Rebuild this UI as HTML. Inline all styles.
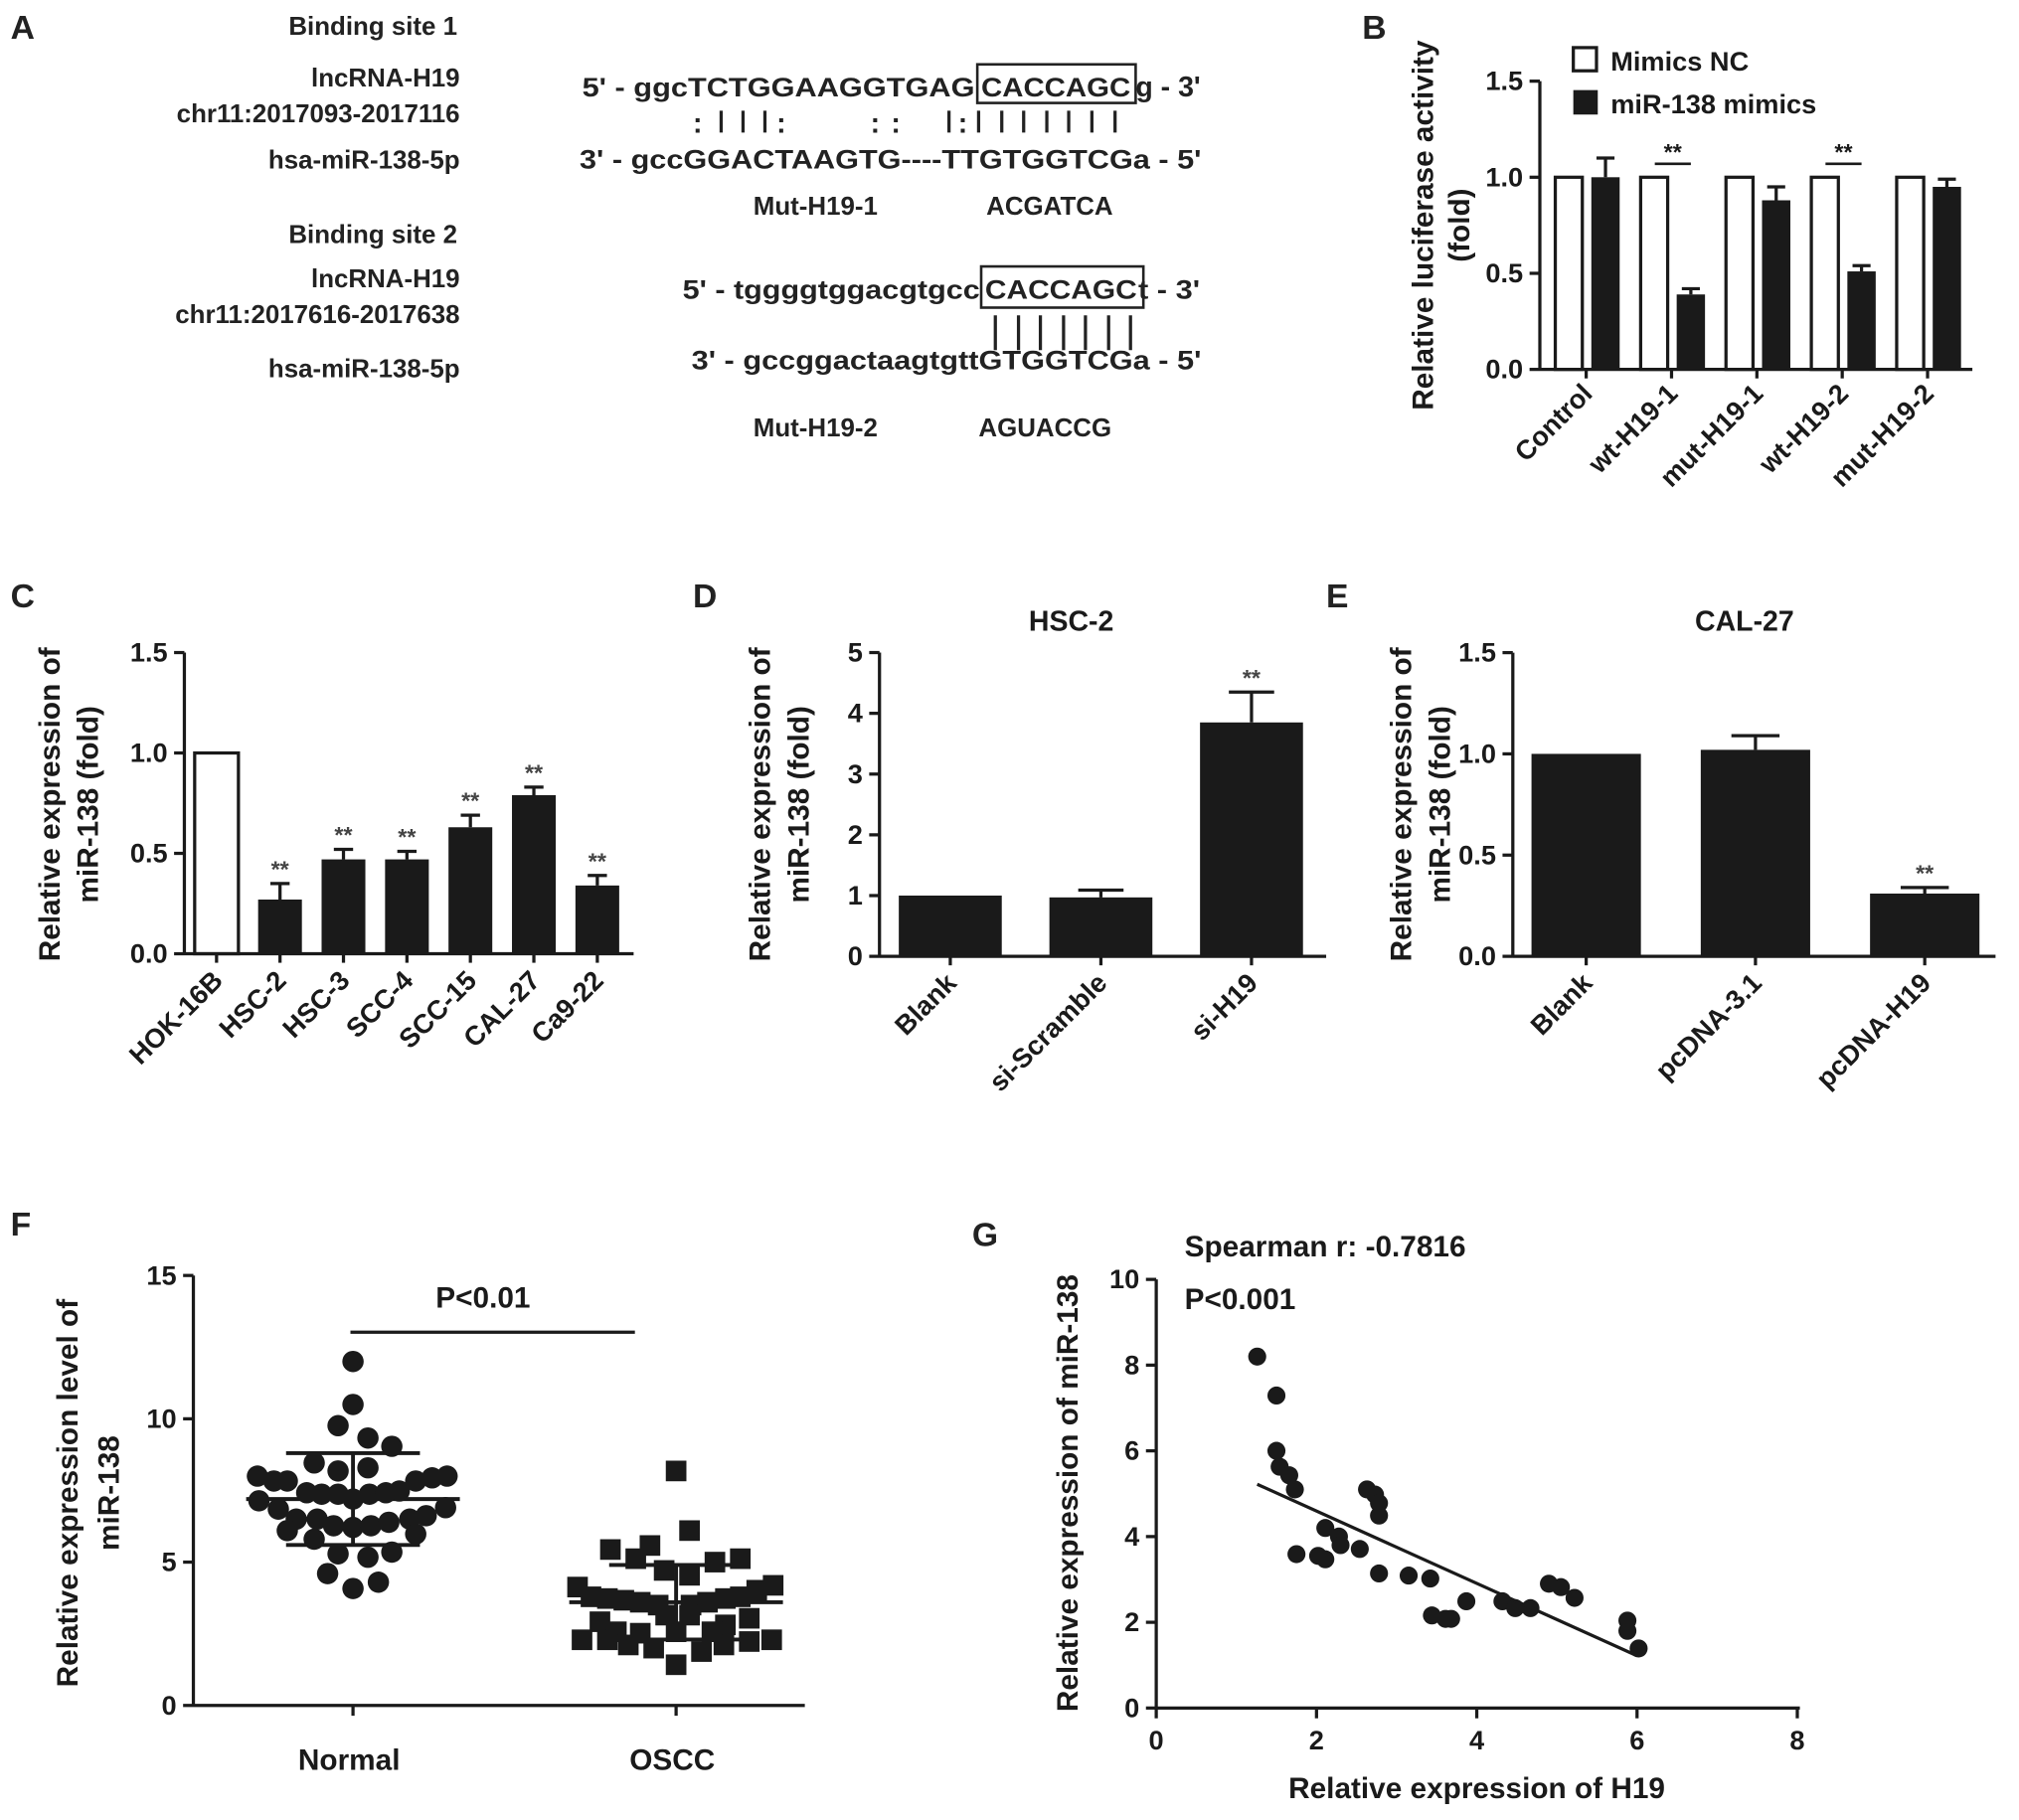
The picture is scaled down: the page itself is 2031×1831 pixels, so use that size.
<!DOCTYPE html>
<html><head><meta charset="utf-8">
<style>
html,body{margin:0;padding:0;background:#fff;}
svg{display:block;font-family:"Liberation Sans",Arial,sans-serif;font-weight:bold;}
</style></head>
<body>
<svg id="fig" xmlns="http://www.w3.org/2000/svg" width="2031" height="1831" viewBox="0 0 1568 1414">
<rect width="1568" height="1414" fill="#fff"/>
<g font-size="26" fill="#222">
<text x="8" y="30">A</text>
<text x="1058" y="30">B</text>
<text x="8" y="472">C</text>
<text x="538" y="472">D</text>
<text x="1030" y="472">E</text>
<text x="8" y="960">F</text>
<text x="755" y="968">G</text>
</g>
<g font-size="20" fill="#222">
<text x="355" y="27" text-anchor="end">Binding site 1</text>
<text x="357" y="67" text-anchor="end">lncRNA-H19</text>
<text x="357" y="95" text-anchor="end">chr11:2017093-2017116</text>
<text x="357" y="131" text-anchor="end">hsa-miR-138-5p</text>
<g font-size="21">
<text x="452" y="75" textLength="305" lengthAdjust="spacingAndGlyphs">5' - ggcTCTGGAAGGTGAG</text>
<text x="762" y="75" textLength="116" lengthAdjust="spacingAndGlyphs">CACCAGC</text>
<text x="882" y="75" font-size="22">g - 3'</text>
</g>
<rect x="759" y="50" width="123" height="30" fill="none" stroke="#222" stroke-width="2"/>
<g font-size="22">
<text x="538" y="103">:</text><text x="603" y="103">:</text><text x="676" y="103">:</text><text x="692" y="103">:</text><text x="744" y="103">:</text>
<path d="M560 86V103M577 86V103M594 86V103M737 86V103M760 86V103M778 86V103M795 86V103M813 86V103M830 86V103M848 86V103M866 86V103" stroke="#222" stroke-width="2.5"/>
</g>
<text x="450" y="131" font-size="21" textLength="483" lengthAdjust="spacingAndGlyphs">3' - gccGGACTAAGTG----TTGTGGTCGa - 5'</text>
<text x="585" y="167">Mut-H19-1</text>
<text x="766" y="167">ACGATCA</text>
<text x="355" y="189" text-anchor="end">Binding site 2</text>
<text x="357" y="223" text-anchor="end">lncRNA-H19</text>
<text x="357" y="251" text-anchor="end">chr11:2017616-2017638</text>
<text x="357" y="293" text-anchor="end">hsa-miR-138-5p</text>
<g font-size="21">
<text x="530" y="232" textLength="231" lengthAdjust="spacingAndGlyphs">5' - tggggtggacgtgcc</text>
<text x="765" y="232" textLength="118" lengthAdjust="spacingAndGlyphs">CACCAGC</text>
<text x="884" y="232" textLength="48" lengthAdjust="spacingAndGlyphs">t - 3'</text>
</g>
<rect x="762" y="207" width="126" height="32" fill="none" stroke="#222" stroke-width="2"/>
<path d="M773 245V272M791 245V272M808 245V272M826 245V272M843 245V272M861 245V272M878 245V272" stroke="#222" stroke-width="2.5"/>
<text x="537" y="287" font-size="21" textLength="396" lengthAdjust="spacingAndGlyphs">3' - gccggactaagtgttGTGGTCGa - 5'</text>
<text x="585" y="339">Mut-H19-2</text>
<text x="760" y="339">AGUACCG</text>
</g>
</svg>
<script>
// ---- Panel B data ----
const bCats = ['Control','wt-H19-1','mut-H19-1','wt-H19-2','mut-H19-2'];
const bNC = [1.0,1.0,1.0,1.0,1.0];
const bMimics = [1.0,0.39,0.88,0.51,0.95];
const bMimicsErr = [0.10,0.03,0.07,0.03,0.04];
const bSig = ['','**','','**',''];
const bTicks = [0,0.5,1.0,1.5];
const bTickLabels = ['0.0','0.5','1.0','1.5'];
// ---- Panel C data ----
const cCats = ['HOK-16B','HSC-2','HSC-3','SCC-4','SCC-15','CAL-27','Ca9-22'];
const cVals = [1.0,0.27,0.47,0.47,0.63,0.79,0.34];
const cErr = [0,0.08,0.05,0.04,0.06,0.04,0.05];
const cSig = ['','**','**','**','**','**','**'];
const cTicks = [0,0.5,1.0,1.5];
const cTickLabels = ['0.0','0.5','1.0','1.5'];
// ---- Panel D data ----
const dCats = ['Blank','si-Scramble','si-H19'];
const dVals = [1.0,0.97,3.85];
const dErr = [0,0.12,0.5];
const dSig = ['','','**'];
const dTicks = [0,1,2,3,4,5];
const dTickLabels = ['0','1','2','3','4','5'];
// ---- Panel E data ----
const eCats = ['Blank','pcDNA-3.1','pcDNA-H19'];
const eVals = [1.0,1.02,0.31];
const eErr = [0,0.07,0.03];
const eSig = ['','','**'];
const eTicks = [0,0.5,1.0,1.5];
const eTickLabels = ['0.0','0.5','1.0','1.5'];
// ---- Panel F data ----
const fGroups = ['Normal','OSCC'];
const fNormalVals = [12.0,10.5,9.76,9.33,9.04,8.46,8.18,8.29,8.0,7.83,7.83,7.83,7.94,8.0,7.42,7.37,7.37,7.2,7.37,7.42,7.48,7.14,6.85,6.9,6.5,6.5,6.27,6.21,6.27,6.39,6.5,6.62,6.1,5.98,5.8,5.29,5.17,5.35,4.6,4.08,4.3];
const fNormalJitter = [0,0,-1,1,2.6,-2.6,-1,1,-6.4,-5.3,-4.4,4.2,5.3,6.3,-3.1,-2.1,-1,0,1.1,2.2,3.1,-6.3,-5,6.2,-3.8,-2.4,-1.3,0,1.2,2.4,3.8,4.9,-4.4,4.2,-2.6,-1,1,2.6,-1.7,0,1.7];
const fOsccVals = [8.18,6.1,5.44,5.58,5.12,5.0,5.12,4.71,4.54,4.13,4.19,4.02,3.79,3.73,3.67,3.6,3.5,3.5,3.6,3.73,3.79,3.15,3.15,2.92,3.04,2.81,2.57,2.52,2.57,2.57,2.29,2.29,2.11,2.0,1.88,2.11,2.23,2.29,1.42];
const fOsccJitter = [0,0.9,-4.4,-1.75,-2.7,2.6,4.3,-0.8,0.9,-6.6,6.5,5.4,-5.7,-4.6,-3.5,-2.4,-1.2,1.0,2.1,3.3,4.3,-0.7,0.9,-5.1,4.9,3.3,-4,-2.4,0,2.4,-6.3,-4.6,-3.2,-1.5,1.7,3.2,4.9,6.4,0];
const fMeans = [7.2,3.6];
const fSdHi = [8.8,4.9];
const fSdLo = [5.6,2.3];
const fTicks = [0,5,10,15];
const fTickLabels = ['0','5','10','15'];
// ---- Panel G data ----
const gX = [1.26,1.50,1.50,1.54,1.66,1.73,2.63,2.73,2.78,2.78,2.11,2.28,2.30,2.54,1.75,2.02,2.11,2.78,3.15,3.42,3.44,3.61,3.68,3.87,4.32,4.48,4.67,4.90,5.05,5.22,5.88,5.88,6.02];
const gY = [8.2,7.29,6.0,5.63,5.43,5.10,5.10,4.98,4.78,4.49,4.2,4.0,3.8,3.71,3.59,3.55,3.47,3.14,3.09,3.02,2.16,2.08,2.08,2.49,2.49,2.33,2.33,2.90,2.82,2.57,2.04,1.80,1.39];
const gFitX = [1.26,6.0];
const gFitY = [5.22,1.22];
const gXTicks = [0,2,4,6,8];
const gYTicks = [0,2,4,6,8,10];

const NS='http://www.w3.org/2000/svg';
const svg=document.getElementById('fig');
function mk(tag,a,p){const e=document.createElementNS(NS,tag);for(const k in a)e.setAttribute(k,a[k]);(p||svg).appendChild(e);return e;}
function txt(s,a,p){const e=mk('text',a,p);e.textContent=s;return e;}
const INK='#1a1a1a';

function yAxis(g,x,ys,ticks,labels){
  const ax=mk('line',{x1:x,x2:x,y1:ys(ticks[0])+1,y2:ys(ticks[ticks.length-1]),stroke:INK,'stroke-width':2.5},g);
  
  
  ticks.forEach((t,i)=>{
    const tk=mk('line',{x1:x-8,x2:x,y1:ys(t),y2:ys(t),stroke:INK,'stroke-width':2.5},g);
    
    
    const tl=txt(labels[i],{x:x-13,y:ys(t)+7,'text-anchor':'end','font-size':21,fill:INK},g);
    
    
  });
}
function xAxisLine(g,x1,x2,y){
  const l=mk('line',{x1:x1,x2:x2,y1:y,y2:y,stroke:INK,'stroke-width':2.5},g);
  
  
}
function rotLabel(g,s,cx,y){
  const t=txt(s,{x:cx+6,y:y,'text-anchor':'end','font-size':21,fill:INK,transform:`rotate(-45 ${cx+6} ${y})`},g);
  
  
}
function yTitle(g,lines,x0,cy,dx){
  lines.forEach((s,i)=>{
    const x=x0+i*dx;
    const t=txt(s,{x:x,y:cy,'text-anchor':'middle','font-size':23,fill:INK,transform:`rotate(-90 ${x} ${cy})`},g);
    
    
  });
}
function errBar(g,cx,ytop,yv,w){
  const e=mk('path',{d:`M${cx} ${yv}V${ytop}M${cx-w} ${ytop}H${cx+w}`,stroke:INK,'stroke-width':2.5,fill:'none'},g);
  
  
}

// ===== Panel B =====
(function(){
  const g=mk('g',{});
  
  
  const ys=v=>287-v*149.3;
  const xc=i=>1232+i*66.3;
  bCats.forEach((c,i)=>{
    const w=mk('rect',{x:xc(i)-24,y:ys(bNC[i]),width:21,height:ys(0)-ys(bNC[i]),fill:'#fff',stroke:INK,'stroke-width':2.5},g);
    
    
    const b=mk('rect',{x:xc(i)+4,y:ys(bMimics[i]),width:22,height:ys(0)-ys(bMimics[i]),fill:INK},g);
    
    
    errBar(g,xc(i)+15,ys(bMimics[i]+bMimicsErr[i]),ys(bMimics[i]),7);
    if(bSig[i]){
      const sl=mk('line',{x1:xc(i)-13,x2:xc(i)+15,y1:ys(1.07),y2:ys(1.07),stroke:INK,'stroke-width':2},g);
      
      
      const st=txt(bSig[i],{x:xc(i)+1,y:ys(1.07)-3,'text-anchor':'middle','font-size':18,fill:INK},g);
      
      
    }
    const tk=mk('line',{x1:xc(i),x2:xc(i),y1:ys(0),y2:ys(0)+7,stroke:INK,'stroke-width':2.5},g);
    
    
    rotLabel(g,c,xc(i),307);
  });
  yAxis(g,1196,ys,bTicks,bTickLabels);
  xAxisLine(g,1196,1532,ys(0));
  yTitle(g,['Relative luciferase activity','(fold)'],1113,175,28);
  const l1=mk('rect',{x:1222,y:37,width:18,height:18,fill:'#fff',stroke:INK,'stroke-width':2.5},g);
  
  
  const lt1=txt('Mimics NC',{x:1251,y:55,'font-size':21,fill:INK},g);
  
  
  const l2=mk('rect',{x:1222,y:70,width:19,height:19,fill:INK},g);
  
  
  const lt2=txt('miR-138 mimics',{x:1251,y:88,'font-size':21,fill:INK},g);
  
  
})();

function barChart(name,cats,vals,errs,sig,ticks,labels,ax,y0,pxPer,x0,step,bw,xEnd,firstWhite,title,titleX,ytl,ytx,ytcy,labelY){
  const g=mk('g',{});
  
  
  const ys=v=>y0-v*pxPer;
  const xc=i=>x0+i*step;
  cats.forEach((c,i)=>{
    const white=firstWhite&&i===0;
    const b=mk('rect',{x:xc(i)-bw/2,y:ys(vals[i]),width:bw,height:ys(0)-ys(vals[i]),fill:white?'#fff':INK,stroke:INK,'stroke-width':white?2.5:0},g);
    
    
    if(errs[i]>0) errBar(g,xc(i),ys(vals[i]+errs[i]),ys(vals[i]),bw*0.22);
    if(sig[i]){
      const st=txt(sig[i],{x:xc(i),y:ys(vals[i]+errs[i])-5,'text-anchor':'middle','font-size':18,fill:'#444'},g);
      
      
    }
    const tk=mk('line',{x1:xc(i),x2:xc(i),y1:ys(0),y2:ys(0)+7,stroke:INK,'stroke-width':2.5},g);
    
    
    rotLabel(g,c,xc(i),labelY);
  });
  yAxis(g,ax,ys,ticks,labels);
  xAxisLine(g,ax,xEnd,ys(0));
  if(title){
    const t=txt(title,{x:titleX,y:490,'text-anchor':'middle','font-size':22,fill:INK},g);
    
    
  }
  yTitle(g,ytl,ytx,ytcy,30);
}
barChart('panel-c-cell-line-chart',cCats,cVals,cErr,cSig,cTicks,cTickLabels,143,741,156,168,49.3,34,492,true,'',0,['Relative expression of','miR-138 (fold)'],46,625,763);
barChart('panel-d-hsc2-chart',dCats,dVals,dErr,dSig,dTicks,dTickLabels,683,743,47.2,738,117,80,1030,false,'HSC-2',832,['Relative expression of','miR-138 (fold)'],598,625,765);
barChart('panel-e-cal27-chart',eCats,eVals,eErr,eSig,eTicks,eTickLabels,1175,743,157.3,1232,131.5,85,1550,false,'CAL-27',1355,['Relative expression of','miR-138 (fold)'],1096,625,765);

// ===== Panel F =====
(function(){
  const g=mk('g',{});
  
  
  const ys=v=>1325-v*22.27;
  const gx=[274,525];
  const jStep=11.6;
  fNormalVals.forEach((v,i)=>{
    const c=mk('circle',{cx:gx[0]+fNormalJitter[i]*jStep,cy:ys(v),r:8.3,fill:INK},g);
    
    
  });
  fOsccVals.forEach((v,i)=>{
    const s=mk('rect',{x:gx[1]+fOsccJitter[i]*jStep-8,y:ys(v)-8,width:16,height:16,fill:INK},g);
    
    
  });
  gx.forEach((x,i)=>{
    const m=mk('path',{d:`M${x-83} ${ys(fMeans[i])}H${x+83}M${x} ${ys(fSdHi[i])}V${ys(fSdLo[i])}M${x-52} ${ys(fSdHi[i])}H${x+52}M${x-52} ${ys(fSdLo[i])}H${x+52}`,stroke:INK,'stroke-width':3,fill:'none'},g);
    
    
    const tk=mk('line',{x1:x,x2:x,y1:ys(0),y2:ys(0)+8,stroke:INK,'stroke-width':2.5},g);
    
    
    const t=txt(fGroups[i],{x:x-3,y:1375,'text-anchor':'middle','font-size':23,fill:INK},g);
    
    
  });
  yAxis(g,150,ys,fTicks,fTickLabels);
  xAxisLine(g,150,625,ys(0));
  const pl=mk('line',{x1:272,x2:493,y1:1035,y2:1035,stroke:INK,'stroke-width':2.5},g);
  
  
  const pt=txt('P<0.01',{x:375,y:1016,'text-anchor':'middle','font-size':23,fill:INK},g);
  
  
  yTitle(g,['Relative expression level of','miR-138'],60,1160,32);
})();

// ===== Panel G =====
(function(){
  const g=mk('g',{});
  
  
  const xs=v=>898+v*62.25;
  const ys=v=>1327-v*33.3;
  gX.forEach((x,i)=>{
    const c=mk('circle',{cx:xs(x),cy:ys(gY[i]),r:7,fill:INK},g);
    
    
  });
  const fl=mk('line',{x1:xs(gFitX[0]),y1:ys(gFitY[0]),x2:xs(gFitX[1]),y2:ys(gFitY[1]),stroke:INK,'stroke-width':2.5},g);
  
  
  yAxis(g,898,ys,gYTicks,gYTicks.map(String));
  xAxisLine(g,898,1398,ys(0));
  gXTicks.forEach(t=>{
    const tk=mk('line',{x1:xs(t),x2:xs(t),y1:ys(0),y2:ys(0)+8,stroke:INK,'stroke-width':2.5},g);
    
    
    const tl=txt(String(t),{x:xs(t),y:ys(0)+32,'text-anchor':'middle','font-size':21,fill:INK},g);
    
    
  });
  const xt=txt('Relative expression of H19',{x:1147,y:1397,'text-anchor':'middle','font-size':23,fill:INK},g);
  
  
  yTitle(g,['Relative expression of miR-138'],837,1160,0);
  const s1=txt('Spearman r: -0.7816',{x:920,y:976,'font-size':23,fill:INK},g);
  
  
  const s2=txt('P<0.001',{x:920,y:1017,'font-size':23,fill:INK},g);
  
  
})();
</script>
</body></html>
